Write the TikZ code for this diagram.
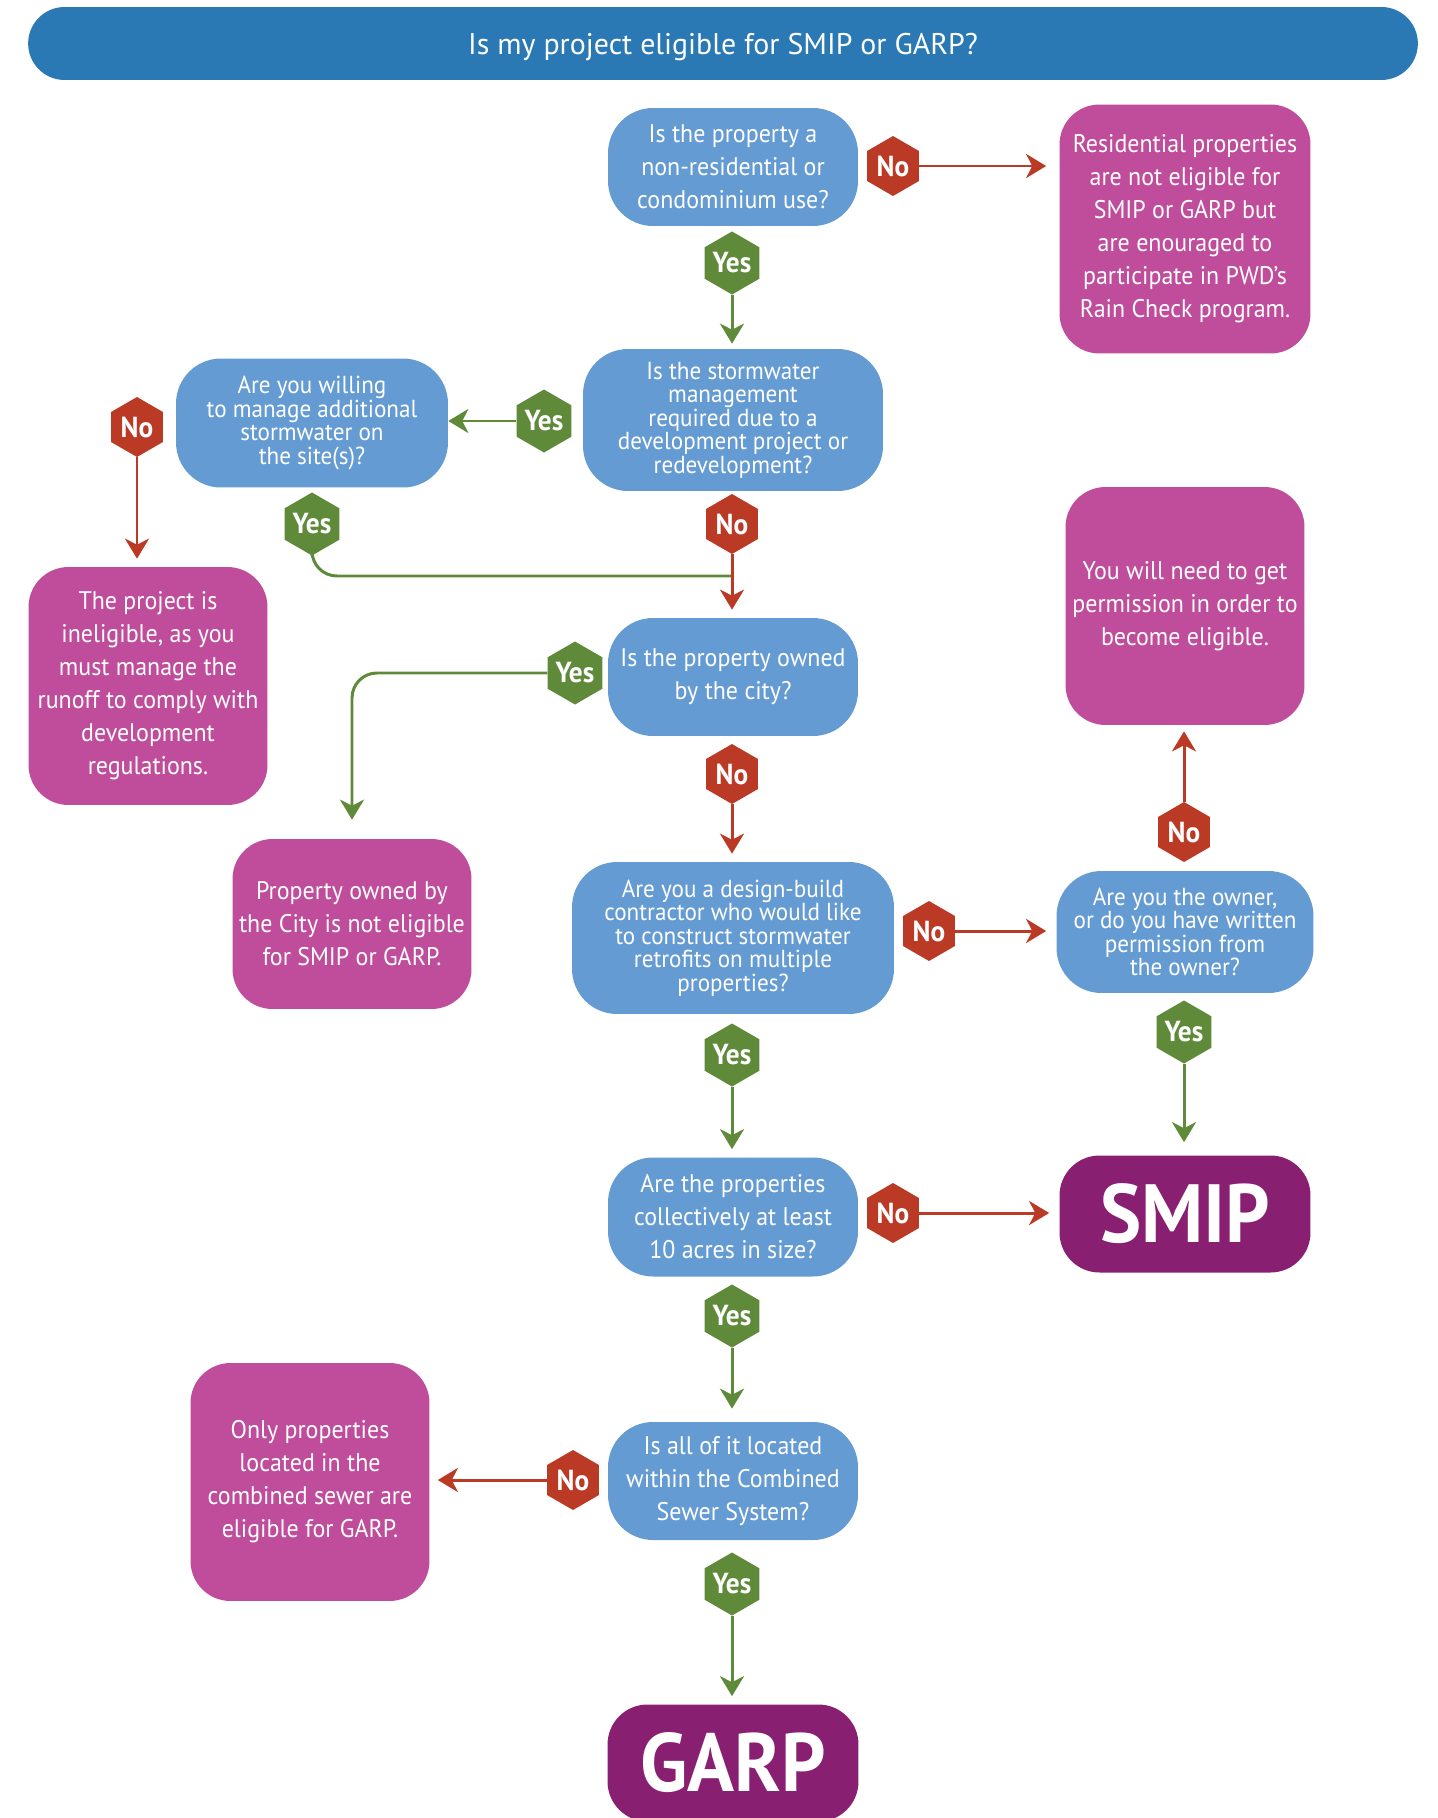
\documentclass[tikz,border=0pt]{standalone}
\usepackage{fontspec}
\setmainfont{PT Sans}[FakeStretch=0.94]
\newfontfamily\titlefont{PT Sans}
\usetikzlibrary{shapes.geometric,arrows.meta,positioning}

\definecolor{titleblue}{HTML}{2A78B4}
\definecolor{askblue}{HTML}{659BD3}
\definecolor{infopink}{HTML}{BF4D9B}
\definecolor{endpurple}{HTML}{891F71}
\definecolor{nored}{HTML}{BB3A26}
\definecolor{yesgreen}{HTML}{5F8A3A}

\tikzset{
    ask/.style={fill=askblue, text=white, rounded corners=0.9cm, align=center, inner sep=2pt,
        font=\fontsize{14.5}{18.8}\selectfont},
    asktight/.style={ask, font=\fontsize{14}{13.4}\selectfont},
    info/.style={fill=infopink, text=white, rounded corners=0.8cm, align=center, inner sep=2pt,
        minimum width=4.78cm, minimum height=4.76cm, font=\fontsize{14.5}{18.8}\selectfont},
    goal/.style={fill=endpurple, text=white, rounded corners=0.8cm, minimum width=5.02cm,
        minimum height=2.34cm, font=\bfseries\fontsize{47}{47}\selectfont},
    nohex/.style={regular polygon, regular polygon sides=6, regular polygon rotate=30, fill=nored,
        text=white, minimum size=1.2cm, inner sep=0pt, font=\bfseries\fontsize{16.5}{16.5}\selectfont},
    yeshex/.style={nohex, fill=yesgreen},
    noline/.style={draw=nored, line width=1.7pt, -{Stealth[length=0.4cm, width=0.48cm, inset=0.12cm]},
        shorten >=0.16cm},
    yesline/.style={noline, draw=yesgreen},
}

\begin{document}
\begin{tikzpicture}[x=0.02cm, y=-0.02cm]
    \useasboundingbox (0,0) rectangle (1437,1818);
    \clip (0,0) rectangle (1437,1818);

    % heading bar
    \node[fill=titleblue, text=white, minimum width=27.8cm, minimum height=1.46cm, rounded corners=0.73cm,
        text depth=0pt, font=\titlefont\fontsize{17}{17}\selectfont] (title) at (723,43.5)
        {Is my project eligible for SMIP or GARP?};

    % questions
    \node[ask, minimum width=5cm, minimum height=2.36cm] (use) at (733,167)
        {Is the property a\\non-residential or\\condominium use?};
    \node[asktight, minimum width=6cm, minimum height=2.84cm] (devt) at (733,420)
        {Is the stormwater\\management\\required due to a\\development project or\\redevelopment?};
    \node[asktight, minimum width=5.44cm, minimum height=2.58cm] (willing) at (312,423)
        {Are you willing\\to manage additional\\stormwater on\\the site(s)?};
    \node[ask, minimum width=5cm, minimum height=2.36cm] (city) at (733,677)
        {Is the property owned\\by the city?};
    \node[asktight, minimum width=6.44cm, minimum height=3.04cm] (builder) at (733,938)
        {Are you a design-build\\contractor who would like\\to construct stormwater\\retrofits on multiple\\properties?};
    \node[asktight, minimum width=5.14cm, minimum height=2.44cm] (owner) at (1185,932)
        {Are you the owner,\\or do you have written\\permission from\\the owner?};
    \node[ask, minimum width=5cm, minimum height=2.38cm] (acres) at (733,1217)
        {Are the properties\\collectively at least\\10 acres in size?};
    \node[ask, minimum width=5cm, minimum height=2.36cm] (sewer) at (733,1481)
        {Is all of it located\\within the Combined\\Sewer System?};

    % answers
    \node[info, minimum width=5.02cm, minimum height=4.98cm] (residential) at (1185,229)
        {Residential properties\\are not eligible for\\SMIP or GARP but\\are enouraged to\\participate in PWD’s\\Rain Check program.};
    \node[info] (ineligible) at (148,686)
        {The project is\\ineligible, as you\\must manage the\\runoff to comply with\\development\\regulations.};
    \node[info, minimum height=3.4cm] (citynot) at (352,924)
        {Property owned by\\the City is not eligible\\for SMIP or GARP.};
    \node[info] (permission) at (1185,606)
        {You will need to get\\permission in order to\\become eligible.};
    \node[info] (combined) at (310,1482)
        {Only properties\\located in the\\combined sewer are\\eligible for GARP.};
    \node[goal] (smip) at (1185,1214) {SMIP};
    \node[goal] (garp) at (733,1763) {GARP};

    % yes / no markers
    \node[nohex]  (useno)      at (893,166)  {No};
    \node[yeshex] (useyes)     at (732,263)  {Yes};
    \node[yeshex] (devtyes)    at (544,421)  {Yes};
    \node[nohex]  (devtno)     at (732,524)  {No};
    \node[nohex]  (willingno)  at (137,427)  {No};
    \node[yeshex] (willingyes) at (312,524)  {Yes};
    \node[yeshex] (cityyes)    at (575,673)  {Yes};
    \node[nohex]  (cityno)     at (732,774)  {No};
    \node[nohex]  (builderno)  at (929,931)  {No};
    \node[yeshex] (builderyes) at (732,1055) {Yes};
    \node[nohex]  (ownerno)    at (1184,832) {No};
    \node[yeshex] (owneryes)   at (1184,1032) {Yes};
    \node[nohex]  (acresno)    at (893,1213) {No};
    \node[yeshex] (acresyes)   at (732,1316) {Yes};
    \node[nohex]  (sewerno)    at (573,1480) {No};
    \node[yeshex] (seweryes)   at (732,1584) {Yes};

    \coordinate (merge) at (732,576);

    % connectors
    \draw[noline, shorten >=0.26cm] (useno.east) -- (useno.east -| residential.west);
    \draw[yesline, shorten >=0.1cm] (useyes.south) -- (useyes.south |- devt.north);
    \draw[yesline, shorten >=0pt] (devtyes.west) -- (devtyes.west -| willing.east);
    \draw[noline] (willingno.south) -- (willingno.south |- ineligible.north);
    \draw[yesline, -, shorten >=0pt, rounded corners=0.5cm] (willingyes.south) |- (merge);
    \draw[noline] (devtno.south) -- (devtno.south |- city.north);
    \draw[yesline, rounded corners=0.5cm, shorten >=0.38cm] (cityyes.west) -| (citynot.north);
    \draw[noline] (cityno.south) -- (cityno.south |- builder.north);
    \draw[noline, shorten >=0.2cm] (builderno.east) -- (builderno.east -| owner.west);
    \draw[noline, shorten >=0.12cm] (ownerno.north) -- (ownerno.north |- permission.south);
    \draw[yesline, shorten >=0.26cm] (owneryes.south) -- (owneryes.south |- smip.north);
    \draw[yesline] (builderyes.south) -- (builderyes.south |- acres.north);
    \draw[noline, shorten >=0.2cm] (acresno.east) -- (acresno.east -| smip.west);
    \draw[yesline, shorten >=0.26cm] (acresyes.south) -- (acresyes.south |- sewer.north);
    \draw[noline] (sewerno.west) -- (sewerno.west -| combined.east);
    \draw[yesline] (seweryes.south) -- (seweryes.south |- garp.north);
\end{tikzpicture}
\end{document}
